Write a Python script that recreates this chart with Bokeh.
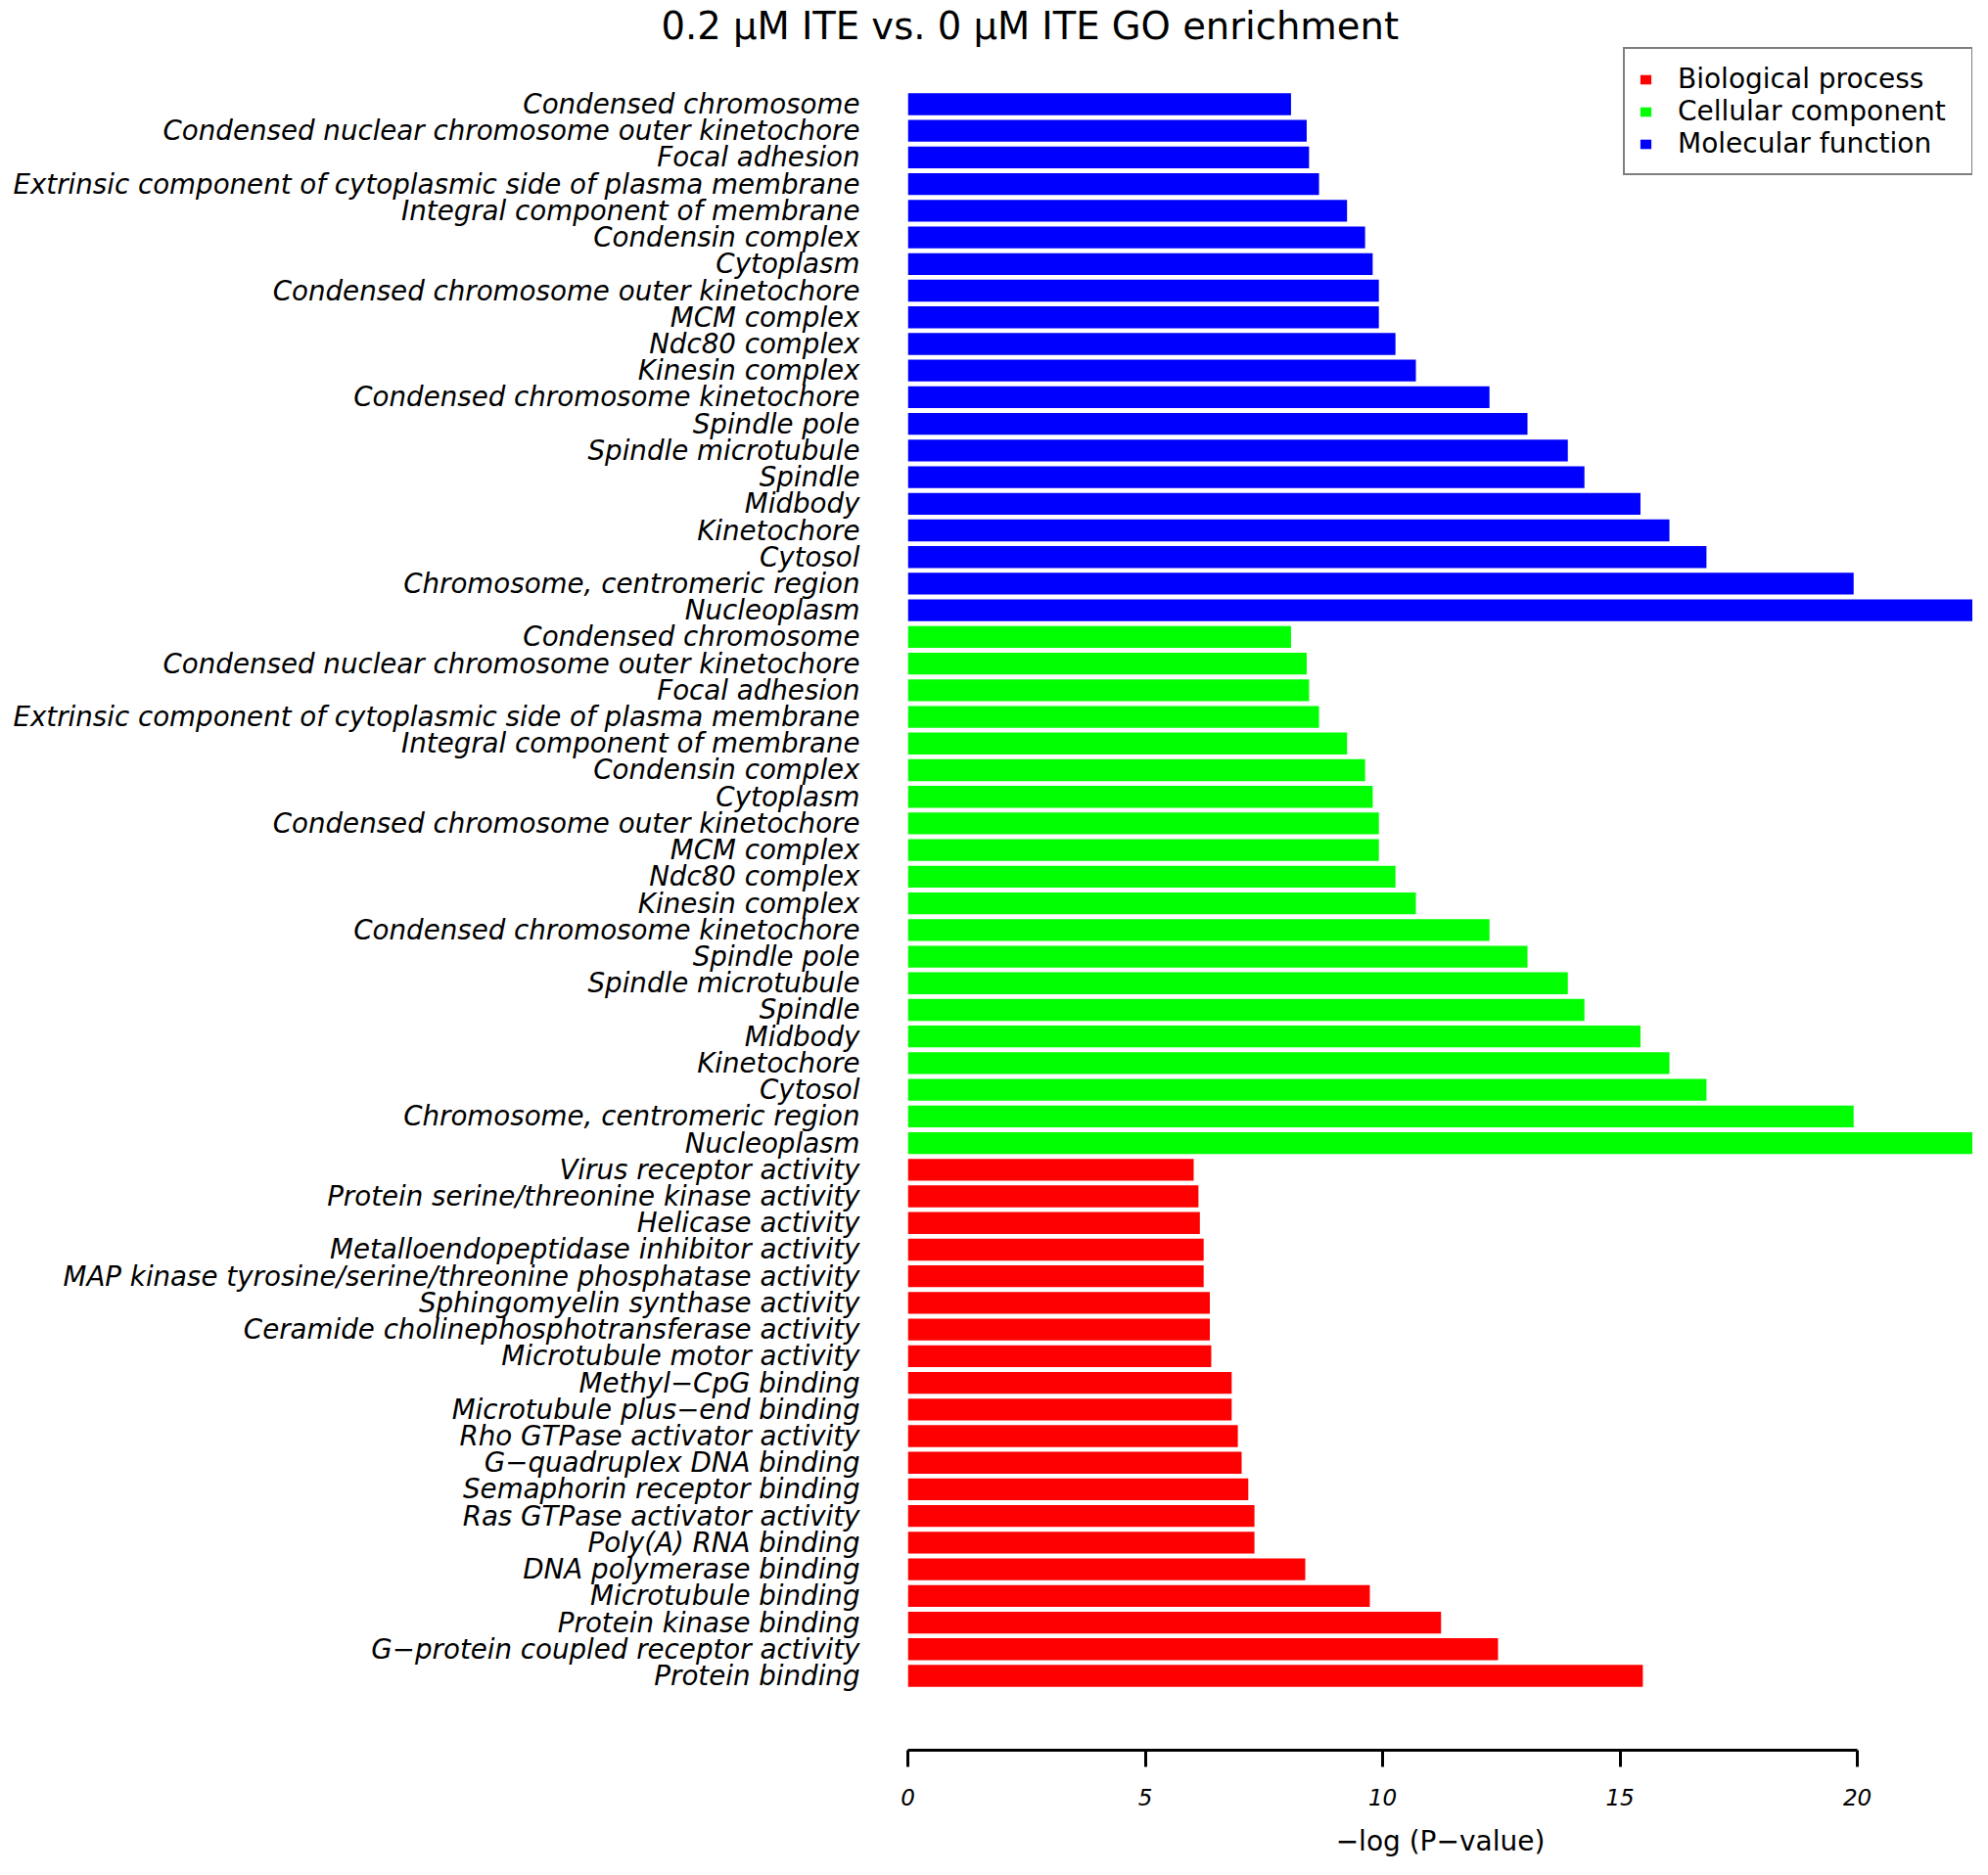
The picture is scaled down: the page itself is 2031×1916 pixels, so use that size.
from bokeh.plotting import figure
from bokeh.models import (FixedTicker, Legend, LegendItem, Title,
                          ColumnDataSource, Range1d)
from bokeh.embed import file_html
from bokeh.resources import INLINE

TITLE = "0.2 \u00b5M ITE  vs. 0 \u00b5M ITE GO enrichment"
X_LABEL = "\u2212log (P\u2212value)"
X_TICKS = [0, 5, 10, 15, 20]

GROUP_NAMES = ["Biological process", "Cellular component", "Molecular function"]
GROUP_COLORS = ["#FF0000", "#00FF00", "#0000FF"]

# terms listed top to bottom as in the chart
component_terms = [
    "Condensed chromosome",
    "Condensed nuclear chromosome outer kinetochore",
    "Focal adhesion",
    "Extrinsic component of cytoplasmic side of plasma membrane",
    "Integral component of membrane",
    "Condensin complex",
    "Cytoplasm",
    "Condensed chromosome outer kinetochore",
    "MCM complex",
    "Ndc80 complex",
    "Kinesin complex",
    "Condensed chromosome kinetochore",
    "Spindle pole",
    "Spindle microtubule",
    "Spindle",
    "Midbody",
    "Kinetochore",
    "Cytosol",
    "Chromosome, centromeric region",
    "Nucleoplasm",
]
molecular_values = [8.07, 8.40, 8.45, 8.66, 9.25, 9.63, 9.79, 9.92, 9.92, 10.27,
                    10.70, 12.25, 13.05, 13.90, 14.25, 15.43, 16.04, 16.82, 19.92, 22.50]
cellular_values = [8.07, 8.40, 8.45, 8.66, 9.25, 9.63, 9.79, 9.92, 9.92, 10.27,
                   10.70, 12.25, 13.05, 13.90, 14.25, 15.43, 16.04, 16.82, 19.92, 22.50]

process_terms = [
    "Virus receptor activity",
    "Protein serine/threonine kinase activity",
    "Helicase activity",
    "Metalloendopeptidase inhibitor activity",
    "MAP kinase tyrosine/serine/threonine phosphatase activity",
    "Sphingomyelin synthase activity",
    "Ceramide cholinephosphotransferase activity",
    "Microtubule motor activity",
    "Methyl\u2212CpG binding",
    "Microtubule plus\u2212end binding",
    "Rho GTPase activator activity",
    "G\u2212quadruplex DNA binding",
    "Semaphorin receptor binding",
    "Ras GTPase activator activity",
    "Poly(A) RNA binding",
    "DNA polymerase binding",
    "Microtubule binding",
    "Protein kinase binding",
    "G\u2212protein coupled receptor activity",
    "Protein binding",
]
process_values = [6.02, 6.12, 6.15, 6.23, 6.23, 6.36, 6.36, 6.39, 6.82, 6.82,
                  6.95, 7.03, 7.17, 7.30, 7.30, 8.37, 9.73, 11.23, 12.43, 15.48]

# stacking order top -> bottom: Molecular function, Cellular component, Biological process
blocks = [
    (2, component_terms, molecular_values),
    (1, component_terms, cellular_values),
    (0, process_terms, process_values),
]
n_rows = sum(len(t) for _, t, _ in blocks)

FONT = "DejaVu Sans"

p = figure(width=2015, height=1900, output_backend="svg", toolbar_location=None,
           x_range=Range1d(0, 22.43), y_range=Range1d(-2.792, 61.13),
           min_border_left=927, min_border_right=0, min_border_top=48,
           min_border_bottom=112)
p.outline_line_color = None
p.xgrid.visible = False
p.ygrid.visible = False
p.background_fill_color = "white"

renderers = {}
overrides = {}
row = 0
for g, terms, vals in blocks:
    ys = []
    for t in terms:
        y = n_rows - 1 - row
        ys.append(y)
        overrides[y] = t
        row += 1
    src = ColumnDataSource(dict(y=ys, right=vals, term=terms))
    r = p.hbar(y="y", right="right", left=0, height=0.82, source=src,
               fill_color=GROUP_COLORS[g], line_color=None)
    renderers[g] = r

# y axis: term labels
p.yaxis.ticker = FixedTicker(ticks=sorted(overrides.keys()))
p.yaxis.major_label_overrides = overrides
p.yaxis.axis_line_color = None
p.yaxis.major_tick_line_color = None
p.yaxis.minor_tick_line_color = None
p.yaxis.major_tick_out = 0
p.yaxis.major_tick_in = 0
p.yaxis.major_label_standoff = 49
p.yaxis.major_label_text_font = FONT
p.yaxis.major_label_text_font_style = "italic"
p.yaxis.major_label_text_font_size = "27.7px"
p.yaxis.major_label_text_color = "black"

# x axis
xa = p.xaxis[0]
xa.ticker = FixedTicker(ticks=X_TICKS)
xa.bounds = (X_TICKS[0], X_TICKS[-1])
xa.axis_line_width = 3
xa.axis_line_color = "black"
xa.major_tick_line_width = 3
xa.major_tick_line_color = "black"
xa.major_tick_out = 17
xa.major_tick_in = 0
xa.minor_tick_line_color = None
xa.major_label_standoff = 22
xa.major_label_text_font = FONT
xa.major_label_text_font_style = "italic"
xa.major_label_text_font_size = "23px"
xa.major_label_text_color = "black"
xa.axis_label = X_LABEL
xa.axis_label_text_font = FONT
xa.axis_label_text_font_style = "normal"
xa.axis_label_text_font_size = "28px"
xa.axis_label_text_color = "black"
xa.axis_label_standoff = 17

# title
title = Title(text=TITLE, align="left", offset=-252, standoff=0,
              text_font=FONT, text_font_style="normal",
              text_font_size="38.5px", text_color="black")
p.add_layout(title, "above")

# legend
legend = Legend(
    items=[LegendItem(label=GROUP_NAMES[g], renderers=[renderers[g]]) for g in range(3)],
    location=(731, 1609),
    orientation="vertical",
    margin=0,
    padding=14,
    spacing=0,
    glyph_width=14,
    glyph_height=12,
    label_height=28,
    label_width=286,
    label_standoff=26,
    label_text_font=FONT,
    label_text_font_size="28px",
    label_text_color="black",
    border_line_color="black",
    border_line_width=2,
    background_fill_color="white",
    background_fill_alpha=1.0,
)
p.add_layout(legend, "center")

open("out.html", "w").write(file_html(p, INLINE))
